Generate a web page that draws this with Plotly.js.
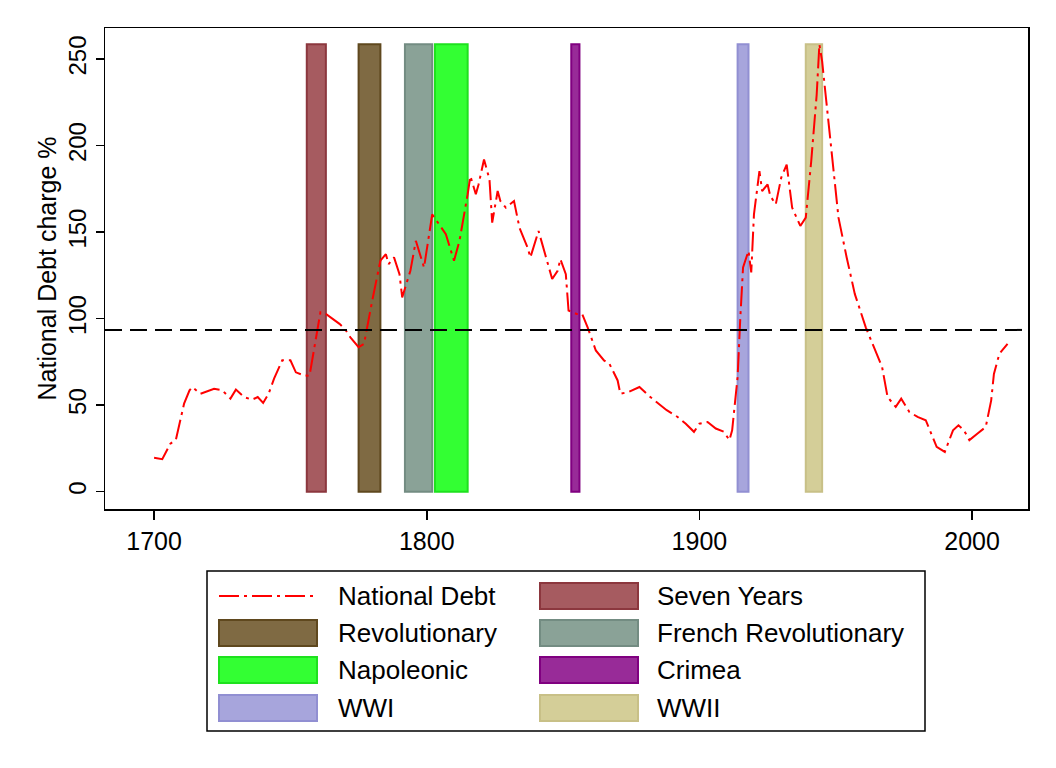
<!DOCTYPE html>
<html>
<head>
<meta charset="utf-8">
<script src="https://cdn.plot.ly/plotly-3.0.1.min.js"></script>
<style>
  body { margin: 0; background: #fff; }
  #chart { width: 1056px; height: 768px; }
</style>
</head>
<body>
<div id="chart"></div>
<script>
// national debt charge, %
var years = [1700, 1703, 1706, 1708, 1711, 1713, 1714, 1717, 1722, 1725, 1728, 1730, 1733, 1736, 1738, 1740,
  1742, 1744, 1747, 1750, 1752, 1755, 1757, 1761, 1763, 1768, 1770, 1772, 1775, 1777, 1780, 1783,
  1785, 1786, 1788, 1790, 1791, 1794, 1796, 1798, 1799, 1802, 1806, 1807, 1810, 1812, 1815, 1816,
  1818, 1819, 1821, 1823, 1824, 1826, 1827, 1829, 1832, 1834, 1837, 1838, 1841, 1844, 1846, 1848,
  1849, 1851, 1852, 1855, 1857, 1859, 1862, 1865, 1867, 1870, 1871, 1874, 1878, 1882, 1885, 1888,
  1892, 1895, 1898, 1900, 1903, 1906, 1909, 1911, 1912, 1914, 1915, 1916, 1918, 1919, 1920, 1922,
  1923, 1925, 1926, 1928, 1930, 1932, 1934, 1937, 1939, 1941, 1943, 1944, 1945, 1947, 1949, 1951,
  1954, 1957, 1961, 1965, 1967, 1969, 1972, 1974, 1977, 1980, 1983, 1987, 1990, 1993, 1995, 1997,
  1999, 2002, 2005, 2007, 2008, 2010, 2013];
var debt = [19.6, 18.8, 27.8, 30, 50.9, 58.6, 60.5, 56.6, 59.5, 58.6, 53.8, 59, 54.7, 53.2, 54.7, 51.3,
  56.6, 65.3, 75.9, 75.9, 69, 67.2, 67, 103.7, 102.7, 97, 94, 89.2, 83.5, 85.4, 110.4, 133.5,
  137.3, 131.5, 135.4, 125.7, 112.3, 127.7, 145, 135.4, 129.6, 160.3, 150.7, 148.8, 133.5, 145, 171.9, 182.4,
  171.9, 177.6, 192, 180.5, 155.5, 173.8, 168, 164.2, 168, 152.6, 141, 135.4, 150.7, 133.5, 122.9, 127.7,
  134.4, 125.7, 104.7, 102.7, 102.7, 95, 81.6, 75.9, 73.9, 64.3, 56.6, 57.6, 60.5, 54.7, 50.9, 47.1,
  43.2, 39.3, 34.6, 39.3, 40.3, 36.5, 34.6, 29.8, 35.5, 66.2, 100.8, 129.6, 139.2, 126.7, 160.3, 185.3,
  173.8, 177.6, 170.9, 166.1, 181.5, 189.1, 164.2, 153.6, 158.4, 191, 229.4, 258.6, 248.7, 219.9, 187.2, 158.4,
  135.4, 114.2, 95, 79.7, 72, 54.7, 49, 53.8, 46.1, 43.2, 41.3, 25.9, 23, 35.5, 38.4, 35.5,
  29.8, 33.6, 37.4, 52.8, 68.1, 79.7, 85.4];

var debtMean = 93.5;

// wars
var warNames = ['Seven Years', 'Revolutionary', 'French Revolutionary', 'Napoleonic', 'Crimea', 'WWI', 'WWII'];
var warStart = [1756, 1775, 1792, 1803, 1853, 1914, 1939];
var warEnd = [1763, 1783, 1802, 1815, 1856, 1918, 1945];
var warFill = ['rgb(166,91,96)', 'rgb(127,106,67)', 'rgb(138,162,151)', 'rgb(51,255,51)',
  'rgb(152,43,152)', 'rgb(167,165,220)', 'rgb(212,206,152)'];
var warLine = ['rgb(140,55,62)', 'rgb(95,72,30)', 'rgb(115,140,130)', 'rgb(30,225,30)',
  'rgb(128,0,128)', 'rgb(145,143,210)', 'rgb(200,192,135)'];

var debtColor = 'rgb(255,0,0)';
var debtDash = '20px,5px,3px,5px';
var topVal = Math.max.apply(null, debt);

var data = [{
  x: years,
  y: debt,
  type: 'scatter',
  mode: 'lines',
  name: 'National Debt',
  line: { color: debtColor, width: 2, dash: debtDash }
}];

for (var i = 0; i < warNames.length; i++) {
  data.push({
    type: 'bar',
    name: warNames[i],
    x: [(warStart[i] + warEnd[i]) / 2],
    y: [topVal],
    base: 0,
    width: [warEnd[i] - warStart[i]],
    marker: { color: warFill[i], line: { color: warLine[i], width: 2 } },
    hoverinfo: 'name'
  });
}

// plot box in pixels, so the legend below it can be placed in paper units
var L = 105, R = 28, T = 28, B = 259, W = 1056, H = 768;
var pw = W - L - R, ph = H - T - B;
function px(x) { return (x - L) / pw; }
function py(y) { return (H - B - y) / ph; }

var shapes = [{
  type: 'line', xref: 'paper', x0: 0, x1: 1, yref: 'y', y0: debtMean, y1: debtMean,
  line: { color: '#000', width: 2, dash: '17px,8px' }
}, {
  type: 'rect', xref: 'paper', yref: 'paper',
  x0: px(207), x1: px(925), y0: py(731), y1: py(571),
  line: { color: '#000', width: 1.5 }
}];
var annotations = [];

// legend: two columns, entries in row order
var legNames = ['National Debt'].concat(warNames);
var colKey = [219, 540], colText = [336, 655];
var rowY = [596, 633, 670, 708];
for (var k = 0; k < legNames.length; k++) {
  var c = k % 2, r = Math.floor(k / 2);
  var yc = rowY[r];
  if (k === 0) {
    shapes.push({
      type: 'line', xref: 'paper', yref: 'paper',
      x0: px(colKey[c]), x1: px(colKey[c] + 99), y0: py(yc), y1: py(yc),
      line: { color: debtColor, width: 2, dash: debtDash }
    });
  } else {
    shapes.push({
      type: 'rect', xref: 'paper', yref: 'paper',
      x0: px(colKey[c]), x1: px(colKey[c] + 98), y0: py(yc + 13), y1: py(yc - 13),
      fillcolor: warFill[k - 1],
      line: { color: warLine[k - 1], width: 2 }
    });
  }
  annotations.push({
    xref: 'paper', yref: 'paper', x: px(colText[c]), y: py(yc),
    xanchor: 'left', yanchor: 'middle', showarrow: false,
    text: legNames[k], font: { size: 26 }
  });
}

var layout = {
  width: W,
  height: H,
  margin: { l: L, r: R, t: T, b: B, autoexpand: false },
  paper_bgcolor: '#fff',
  plot_bgcolor: '#fff',
  font: { family: 'Liberation Sans, Arial, sans-serif', size: 25, color: '#000' },
  barmode: 'overlay',
  showlegend: false,
  xaxis: {
    range: [1682, 2020.5],
    tickvals: [1700, 1800, 1900, 2000],
    ticks: 'outside', ticklen: 9, tickwidth: 1.5, tickcolor: '#000',
    showgrid: false, zeroline: false,
    showline: true, mirror: true, linecolor: '#000', linewidth: 1.5,
    tickfont: { size: 25 }
  },
  yaxis: {
    range: [-10, 268],
    tickvals: [0, 50, 100, 150, 200, 250],
    tickangle: -90,
    ticks: 'outside', ticklen: 8, tickwidth: 1.5, tickcolor: '#000',
    showgrid: false, zeroline: false,
    showline: true, mirror: true, linecolor: '#000', linewidth: 1.5,
    tickfont: { size: 24 },
    title: { text: 'National Debt charge %', font: { size: 25 }, standoff: 0 }
  },
  shapes: shapes,
  annotations: annotations
};

Plotly.newPlot('chart', data, layout, { displayModeBar: false, staticPlot: true });
</script>
</body>
</html>
